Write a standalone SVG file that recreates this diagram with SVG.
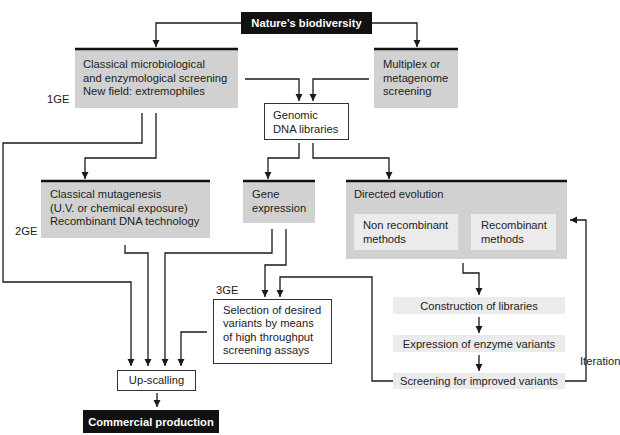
<svg xmlns="http://www.w3.org/2000/svg" width="620" height="435" viewBox="0 0 620 435">
<defs>
<marker id="ah" markerUnits="userSpaceOnUse" markerWidth="8" markerHeight="8" refX="7" refY="3.5" orient="auto">
<path d="M0,0 L7,3.5 L0,7 z" fill="#1a1a1a"/>
</marker>
</defs>
<style>
text{font-family:"Liberation Sans",Arial,sans-serif;font-size:11.2px;fill:#222}
.b{font-weight:bold;fill:#fff}
.g{fill:#d1d1d1}
.l{fill:#ebebeb}
.bar{stroke:#111;stroke-width:2.5}
.w{fill:#fff;stroke:#333;stroke-width:1}
.k{fill:#111}
.c path{fill:none;stroke:#1a1a1a;stroke-width:1.3;marker-end:url(#ah)}
.m{text-anchor:middle}
</style>
<rect width="620" height="435" fill="#fff"/>

<g id="nature"><rect class="k" x="241" y="12" width="131" height="22"/><text class="b m" x="306.5" y="27">Nature’s biodiversity</text></g>

<g id="classical"><rect class="g" x="75" y="49" width="163" height="59"/><line class="bar" x1="75" y1="49" x2="238" y2="49"/>
<text x="83" y="68">Classical microbiological</text><text x="83" y="82">and enzymological screening</text><text x="83" y="95">New field: extremophiles</text></g>
<text x="47" y="103">1GE</text>

<g id="multiplex"><rect class="g" x="374" y="49" width="84" height="59"/><line class="bar" x1="374" y1="49" x2="458" y2="49"/>
<text x="383" y="68">Multiplex or</text><text x="383" y="82">metagenome</text><text x="383" y="95">screening</text></g>

<g id="genomic"><rect class="w" x="264.5" y="103.5" width="84" height="36"/><text x="273" y="119">Genomic</text><text x="273" y="133">DNA libraries</text></g>

<g id="mutagenesis"><rect class="g" x="41" y="181" width="169" height="57"/><line class="bar" x1="41" y1="181" x2="210" y2="181"/>
<text x="50" y="198">Classical mutagenesis</text><text x="50" y="212">(U.V. or chemical exposure)</text><text x="50" y="225">Recombinant DNA technology</text></g>
<text x="15" y="235">2GE</text>

<g id="geneexpr"><rect class="g" x="243" y="181" width="72" height="42"/><line class="bar" x1="243" y1="181" x2="315" y2="181"/>
<text x="252" y="198">Gene</text><text x="252" y="212">expression</text></g>

<g id="directed"><rect class="g" x="346" y="181" width="221" height="78"/><line class="bar" x1="346" y1="181" x2="567" y2="181"/>
<text x="354" y="198">Directed evolution</text>
<rect class="l" x="354" y="214" width="104" height="36"/><text x="363" y="229">Non recombinant</text><text x="363" y="243">methods</text>
<rect class="l" x="471" y="214" width="85" height="36"/><text x="481" y="229">Recombinant</text><text x="481" y="243">methods</text></g>

<text x="216" y="294">3GE</text>
<g id="selection"><rect class="w" x="213.5" y="299.5" width="118" height="64"/>
<text x="223" y="314">Selection of desired</text><text x="223" y="327">variants by means</text><text x="223" y="341">of high throughput</text><text x="223" y="354">screening assays</text></g>

<g id="upscaling"><rect class="w" x="117.5" y="370.5" width="78" height="20"/><text class="m" x="156.5" y="384">Up-scalling</text></g>

<g id="commercial"><rect class="k" x="83" y="410" width="136" height="23"/><text class="b m" x="151" y="426">Commercial production</text></g>

<g id="construction"><rect class="l" x="393" y="297" width="172" height="17"/><text class="m" x="479" y="309.5">Construction of libraries</text></g>
<g id="expression"><rect class="l" x="393" y="335" width="172" height="17"/><text class="m" x="479" y="347.5">Expression of enzyme variants</text></g>
<g id="screening"><rect class="l" x="393" y="373" width="172" height="16"/><text class="m" x="479" y="385">Screening for improved variants</text></g>
<text x="580" y="365">Iteration</text>

<g class="c" id="connectors">
<path d="M241,23 H156 V47"/>
<path d="M372,23 H417 V47"/>
<path d="M245,79 H299 V101"/>
<path d="M369,79 H313 V101"/>
<path d="M142,113 V143 H3 V282 H131 V366"/>
<path d="M156,113 V158 H85 V179"/>
<path d="M299,143 V158 H268 V179"/>
<path d="M313,143 V158 H389 V179"/>
<path d="M125,245 V253 H148 V366"/>
<path d="M272,229 V253 H165 V366"/>
<path d="M286,229 V265 H265 V297"/>
<path d="M393,381 H372 V277 H280 V297"/>
<path d="M463,263 V273 H479 V295"/>
<path d="M207,332 H181 V366"/>
<path d="M157,393 V407"/>
<path d="M479,317 V333"/>
<path d="M479,355 V371"/>
<path d="M565,381 H586 V220 H570"/>
</g>
</svg>
